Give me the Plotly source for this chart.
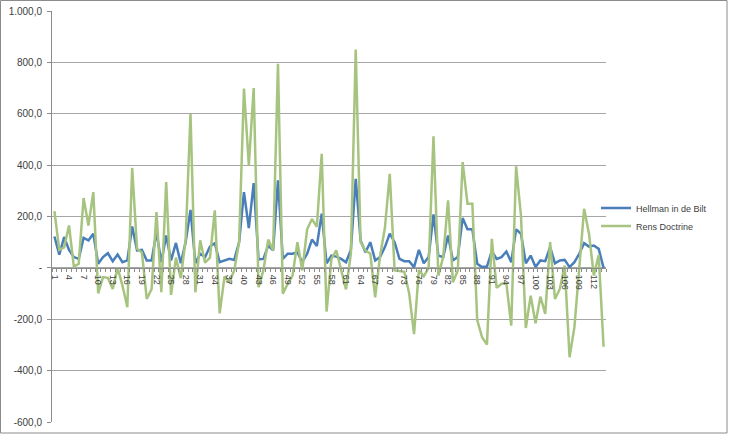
import plotly.graph_objects as go

categories = list(range(1, 115))

hellman = [122, 51, 120, 70, 42, 35, 117, 107, 133, 16,
           42, 57, 26, 52, 22, 29, 161, 68, 70, 29,
           29, 139, 22, 126, 29, 97, 18, 100, 226, 18,
           55, 42, 83, 96, 22, 29, 35, 31, 100, 295,
           155, 330, 33, 35, 87, 68, 341, 35, 55, 55,
           61, 22, 55, 110, 85, 211, 18, 48, 44, 35,
           22, 70, 347, 107, 61, 100, 29, 42, 81, 133,
           100, 35, 26, 26, 3, 70, 18, 42, 208, 48,
           42, 126, 29, 42, 194, 150, 150, 16, 3, 5,
           65, 35, 42, 64, 22, 150, 133, 18, 48, 3,
           29, 26, 81, 18, 29, 31, 3, 22, 55, 96,
           83, 87, 74, 0]

rens = [221, 70, 80, 165, 5, 16, 272, 165, 295, -99,
        -36, -39, -82, 0, -69, -153, 389, 75, 60, -121,
        -82, 217, -95, 334, -105, 40, -40, 110, 600, -95,
        107, 20, 40, 224, -177, -33, -55, -10, 100, 698,
        399, 700, -75, -10, 110, 68, 795, -101, -62, -30,
        100, -10, 150, 190, 160, 444, -170, 35, 68, -10,
        -84, 55, 850, 100, 68, 55, -115, 45, 155, 366,
        -10, -12, -15, -100, -258, -8, -33, 0, 512, -30,
        42, 263, -56, -10, 412, 250, 250, -203, -270, -299,
        113, -78, -62, -60, -225, 395, 204, -234, -108, -216,
        -112, -179, 100, -121, -82, 9, -348, -231, 3, 230,
        133, -30, 50, -307]

x_tickvals = list(range(1, 115, 3))
x_ticktext = [str(v) for v in x_tickvals]
y_tickvals = [-600, -400, -200, 0, 200, 400, 600, 800, 1000]
y_ticktext = ["-600,0", "-400,0", "-200,0", "-", "200,0", "400,0", "600,0", "800,0", "1.000,0"]

font_family = "Liberation Sans, Arial, sans-serif"
L, T, PW, PH = 52, 11, 554, 411

fig = go.Figure()
fig.add_trace(go.Scatter(x=categories, y=hellman, mode="lines", name="Hellman in de Bilt",
                         line=dict(color="#4A7EBB", width=2.5), legend="legend"))
fig.add_trace(go.Scatter(x=categories, y=rens, mode="lines", name="Rens Doctrine",
                         line=dict(color="#A6C47F", width=2.5), legend="legend2"))

legend_common = dict(x=0.982, xanchor="left", yanchor="middle",
                     font=dict(size=9, color="#404040"), bgcolor="rgba(0,0,0,0)")

fig.update_layout(
    width=732, height=434,
    margin=dict(l=L, r=732 - L - PW, t=T, b=434 - T - PH, autoexpand=False),
    paper_bgcolor="white", plot_bgcolor="white",
    font=dict(family=font_family, color="#404040", size=10),
    showlegend=True,
    legend=dict(y=(T + PH - 208) / PH, **legend_common),
    legend2=dict(y=(T + PH - 226) / PH, **legend_common),
    xaxis=dict(range=[0.5, 114.5], anchor="free", position=0.375, automargin=False,
               tickmode="array", tickvals=x_tickvals, ticktext=x_ticktext,
               tickangle=90, ticks="", showgrid=False, zeroline=False,
               ticklabelstandoff=4,
               showline=True, linecolor="#8C8C8C", linewidth=1,
               tickfont=dict(size=9, color="#404040"),
               minor=dict(tickmode="linear", tick0=0.5, dtick=1, ticks="outside",
                          ticklen=3, tickcolor="#8C8C8C", showgrid=False)),
    yaxis=dict(range=[-600, 1000], tickmode="array", tickvals=y_tickvals, ticktext=y_ticktext,
               automargin=False,
               showgrid=True, gridcolor="#A6A6A6", gridwidth=1, zeroline=False,
               showline=True, linecolor="#8C8C8C", linewidth=1,
               ticks="outside", ticklen=4, tickcolor="#8C8C8C",
               ticklabelstandoff=3,
               tickfont=dict(size=10, color="#404040")),
)

fig.add_shape(type="rect", xref="paper", yref="paper",
              x0=(0.5 - L) / PW, x1=(727 - L) / PW,
              y0=(T + PH - 433) / PH, y1=(T + PH - 0.5) / PH,
              line=dict(color="#8C8C8C", width=1), layer="below")

fig.write_html("out.html", config={"displayModeBar": False},
               post_script="document.body.style.margin='0px';")
